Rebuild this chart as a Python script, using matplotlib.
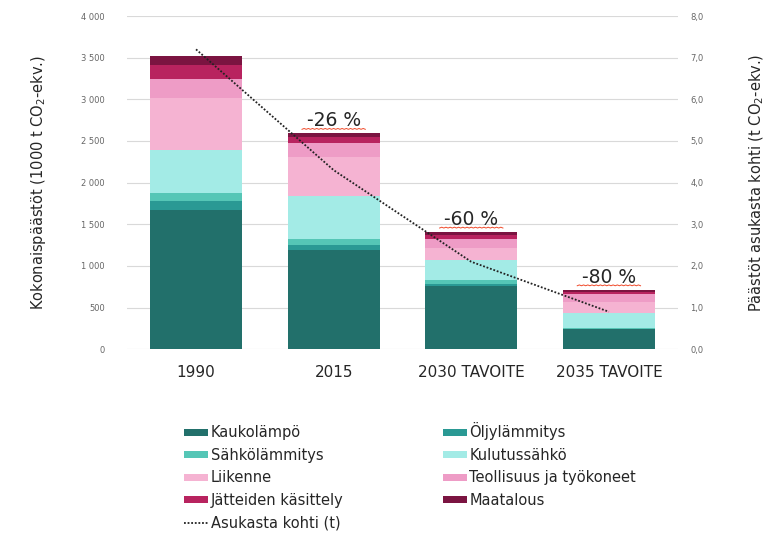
import numpy as np
import matplotlib
matplotlib.use("Agg")
import matplotlib.pyplot as plt
from matplotlib.patches import Patch
from matplotlib.lines import Line2D
from matplotlib.ticker import FuncFormatter

years = ["1990", "2015", "2030 TAVOITE", "2035 TAVOITE"]
kaukolampo = [1670, 1190, 760, 240]
oljylammitys = [110, 60, 25, 8]
sahkolammitys = [90, 70, 45, 12]
kulutussahko = [520, 520, 240, 170]
liikenne = [620, 470, 150, 140]
teollisuus = [230, 160, 100, 90]
jatteet = [170, 75, 50, 30]
maatalous = [110, 50, 40, 27]
asukasta_kohti = [7.2, 4.3, 2.1, 0.9]
muutos = ["", "-26 %", "-60 %", "-80 %"]

series = [
    ("Kaukolämpö", kaukolampo, "#22706b"),
    ("Öljylämmitys", oljylammitys, "#2a9994"),
    ("Sähkölämmitys", sahkolammitys, "#55c6b6"),
    ("Kulutussähkö", kulutussahko, "#a3ebe6"),
    ("Liikenne", liikenne, "#f5b3d2"),
    ("Teollisuus ja työkoneet", teollisuus, "#ee9cc6"),
    ("Jätteiden käsittely", jatteet, "#b8235f"),
    ("Maatalous", maatalous, "#7b1441"),
]

txt = "#262626"
tick_col = "#666666"

fig = plt.figure(figsize=(7.71, 5.34), dpi=100)
ax = fig.add_axes([0.165, 0.346, 0.714, 0.624])
x = np.arange(len(years))

bottom = np.zeros(len(years))
for name, vals, col in series:
    ax.bar(x, vals, 0.67, bottom=bottom, color=col, zorder=2)
    bottom += np.array(vals)
totals = bottom

ax.set_xlim(-0.5, len(years) - 0.5)
ax.set_ylim(0, 4000)
ax.set_yticks(np.arange(0, 4001, 500))
ax.yaxis.set_major_formatter(FuncFormatter(lambda v, p: f"{int(v):,}".replace(",", " ")))
ax.grid(axis="y", color="#d9d9d9", lw=0.8, zorder=0)
for s in ax.spines.values():
    s.set_visible(False)
ax.tick_params(axis="y", length=0, pad=16, labelsize=6, labelcolor=tick_col)
ax.tick_params(axis="x", length=0, pad=11, labelsize=11, labelcolor=txt)
ax.set_xticks(x)
ax.set_xticklabels(years)
ax.set_ylabel("Kokonaispäästöt (1000 t CO$_2$-ekv.)", fontsize=10.5, color=txt, labelpad=24)

# percent change labels with spell-check style underline
for i, lab in enumerate(muutos):
    if not lab:
        continue
    ax.annotate(lab, (x[i], totals[i]), xytext=(0, 5), textcoords="offset points",
                ha="center", va="baseline", fontsize=13.5, color=txt, zorder=5)
    wx = np.linspace(x[i] - 0.23, x[i] + 0.23, 31)
    wy = totals[i] + 45 + 10 * (np.arange(len(wx)) % 2)
    ax.plot(wx, wy, color="#f04a2a", lw=0.7, zorder=5)

ax2 = ax.twinx()
ax2.set_ylim(0, 8)
ax2.set_yticks(np.arange(0, 8.1, 1))
ax2.yaxis.set_major_formatter(FuncFormatter(lambda v, p: f"{v:.1f}".replace(".", ",")))
ax2.tick_params(axis="y", length=0, pad=9, labelsize=6, labelcolor=tick_col)
for s in ax2.spines.values():
    s.set_visible(False)
ax2.plot(x, asukasta_kohti, color="#222222", lw=1.3, ls=(0, (1, 1)), zorder=4)
ax2.set_ylabel("Päästöt asukasta kohti (t CO$_2$-ekv.)", fontsize=10.5, color=txt, labelpad=32)

handles = []
for name, vals, col in series:
    handles.append(Patch(facecolor=col, label=name))
line_h = Line2D([], [], color="#222222", lw=1.3, ls=(0, (1, 1)), label="Asukasta kohti (t)")
order = [handles[0], handles[2], handles[4], handles[6], line_h,
         handles[1], handles[3], handles[5], handles[7]]
fig.legend(handles=order, loc="upper left", bbox_to_anchor=(177 / 771, 1 - 415 / 534),
           ncol=2, frameon=False, fontsize=10.5, labelcolor=txt, borderpad=0,
           handlelength=1.65, handleheight=0.35, handletextpad=0.15,
           labelspacing=0.52, columnspacing=6.85)

fig.savefig("out.png", dpi=100)
